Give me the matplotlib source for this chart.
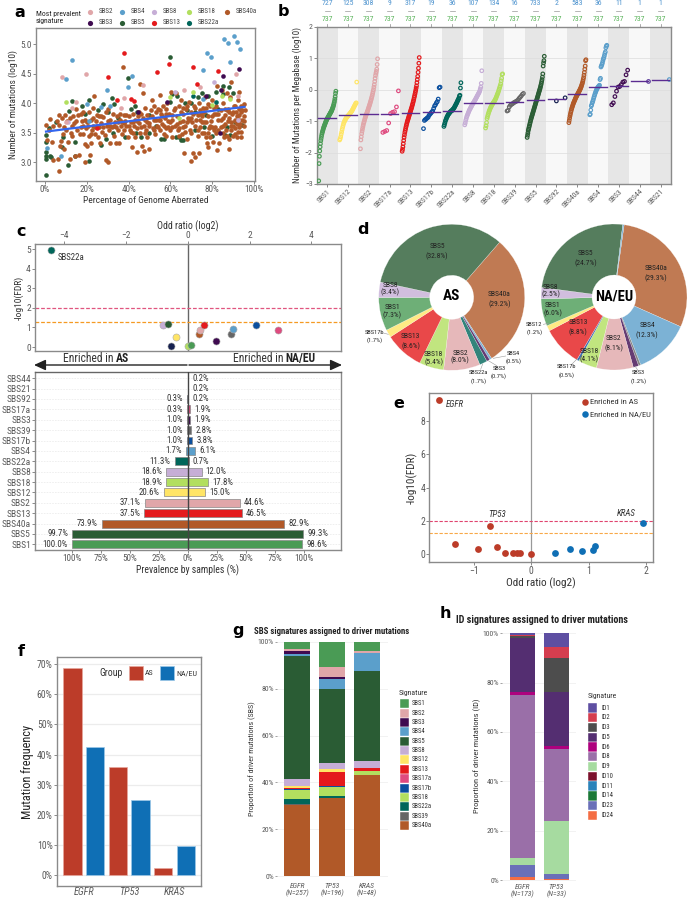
import matplotlib
matplotlib.use('Agg')
import matplotlib.pyplot as plt
from matplotlib import font_manager as fm
from matplotlib.patches import Rectangle
from matplotlib.ticker import FuncFormatter

W, H = 689, 899
avail = {f.name for f in fm.fontManager.ttflist}
for fam in ['Roboto Condensed', 'Liberation Sans Narrow', 'Roboto']:
    if fam in avail:
        plt.rcParams['font.family'] = [fam, 'DejaVu Sans']
        break

# ---------- colours ----------
COL = {'SBS1': '#4a9b55', 'SBS2': '#e0a6a9', 'SBS3': '#3f0a50', 'SBS4': '#5b9fcb', 'SBS5': '#2a5c34',
       'SBS8': '#c6aed6', 'SBS12': '#ffe566', 'SBS13': '#e41a1c', 'SBS17a': '#df4a7f', 'SBS17b': '#0b4f9e',
       'SBS18': '#b2df5f', 'SBS22a': '#00665a', 'SBS39': '#666666', 'SBS40a': '#b15928', 'SBS92': '#15204f',
       'SBS44': '#5a3a9a', 'SBS21': '#5b9fcb'}
IDCOL = {'ID1': '#5e4fa2', 'ID2': '#d53e4f', 'ID3': '#4d4d4d', 'ID5': '#542e71', 'ID6': '#ae017e', 'ID8': '#9a6fa8',
         'ID9': '#a6dba0', 'ID10': '#7b112c', 'ID11': '#2b83ba', 'ID14': '#1b7837', 'ID23': '#6a70b8', 'ID24': '#f46d43'}
TICK = '#5a5a5a'
FRAME = '#8a8a8a'

# ---------- panel a ----------
a_sbs40a = [(0.5,3.63),(0.8,3.38),(2.5,3.73),(2,3.55),(3.5,3.35),(3.8,3.62),(4,3.03),(5.8,3.7),(6,3.05),(6.5,3.63),(6.8,3.8),
 (7,3.28),(6.7,2.85),(7.5,3.36),(8,3.75),(8.5,3.48),(9,3.22),(9,3.6),(9.5,3.8),(10,3.55),(10.5,3.7),(11,3.35),(12,3.05),(12.5,3.5),
 (12.8,3.62),(13,3.45),(13.5,3.78),(14,3.67),(14.5,3.1),(15,3.9),(15.5,3.55),(16,3.8),(16.2,3.12),(16.8,3.48),(17,3.6),(17.5,3.7),
 (18,3.86),(18,3.48),(19,3.31),(19.2,3.01),(19.5,3.58),(20,3.28),(20.5,3.62),(21,3.85),(21.3,3.45),(21.7,3.12),(21.8,3.33),(22,3.72),
 (22.5,3.55),(23,3.92),(23.2,3.62),(23.6,4.12),(24,3.48),(24.5,3.7),(25,3.8),(25.3,3.42),(26,3.6),(26.5,3.33),(27,3.67),(27.5,3.52),
 (28,3.77),(28.5,3.46),(29,3.03),(29.5,3.62),(30,3.01),(30.3,3.9),(30.7,3.55),(31,3.32),(31.3,3.72),(32,3.6),(32.5,3.82),(33,3.45),
 (33.5,3.68),(34,3.32),(34.5,3.78),(35,3.55),(35.5,3.33),(36,3.72),(36.5,3.62),(37,3.48),(37.5,4.62),(37.8,3.8),(38,3.55),(38.5,3.7),
 (39,3.62),(39.5,3.42),(40,3.78),(40.5,3.55),(41,3.68),(41.5,3.25),(42,3.82),(42.3,3.5),(42.8,3.62),(43.2,3.72),(43.8,3.18),(44,3.58),
 (44.5,3.78),(45,3.66),(45.5,4.32),(45.5,3.5),(46,3.82),(46.5,3.27),(47,4.17),(47.3,3.62),(47.5,3.19),(48,3.72),(48.5,3.55),(49,3.8),
 (49,3.42),(49.8,3.22),(50,3.66),(50.5,3.88),(51,4.05),(51.5,3.58),(52,3.72),(52.5,3.48),(53,3.85),(53.5,3.62),(54,3.9),(54.5,3.72),
 (54.8,4.14),(55,3.55),(55.5,3.82),(56,3.65),(56.5,3.95),(57,3.48),(57.5,3.75),(58,3.9),(58,3.58),(58.5,4.0),(59,3.7),(59.5,3.82),
 (60,3.55),(60.5,4.2),(60.7,3.72),(61,3.42),(61.5,3.88),(62,3.62),(62.5,4.18),(63,3.78),(63.5,3.55),(64,3.95),(64.5,3.68),(65,4.05),
 (65.5,3.48),(66,3.82),(66.5,3.15),(67,3.62),(67.5,3.9),(68,3.4),(68.5,3.75),(69,4.02),(69.5,3.55),(70,3.02),(70,3.85),(70.5,3.68),
 (71,3.15),(71.5,3.95),(72,3.08),(72.5,3.72),(73,3.45),(73.5,4.0),(73.8,3.15),(74,3.6),(74.5,3.82),(75,3.5),(75.5,3.92),(76,3.68),
 (76.5,4.1),(77,3.42),(77.5,3.32),(77.8,3.25),(78,3.78),(78.5,3.58),(79,3.95),(79.5,3.7),(80,4.05),(80.5,3.35),(81,3.82),(81.5,3.6),
 (82,3.95),(82.3,3.2),(82.5,4.3),(83,3.72),(83.5,3.33),(84,3.88),(84.5,4.22),(85,3.62),(85.3,4.0),(85.5,3.42),(86,3.8),(86.5,3.55),
 (87,4.18),(87.5,3.7),(87.8,3.9),(88,3.22),(88.5,4.1),(88.8,4.37),(89,3.62),(89.5,3.82),(90,3.45),(90.3,3.95),(90.8,3.7),(91,3.58),
 (91.5,3.85),(92,3.42),(92.2,4.05),(92.5,3.52),(92.8,4.19),(93,3.8),(93.3,3.65),(93.6,3.95),(94,3.52),(94.3,3.88),(94.5,3.72),(95,3.98),
 (95.3,3.62),(95.8,3.88),(48,3.92),(52,3.95),(55,3.88),(58,3.82),(62,3.92),(65,3.85),(68,3.95),(72,3.92),(74,3.88),(76,3.85),(78,3.98),
 (80,3.78),(82,3.82),(84,3.72),(86,3.9),(88,3.75),(90,3.85),(92,3.78),(94,3.85),(50,3.62),(54,3.6),(57,3.62),(60,3.68),(63,3.65),(66,3.7),
 (69,3.72),(72,3.62),(75,3.68),(78,3.5),(81,3.55),(84,3.6),(87,3.45),(89,3.55),(91,3.48),(93,3.6),(28,3.6),(30,3.7),(33,3.62),(36,3.82),
 (39,3.8),(41,3.52),(44,3.7),(46,3.6),(48,3.5),(24,3.6),(26,3.78),(29,3.85),(34,3.6),(37,3.68),(40,3.62),(43,3.42),(15,3.7),(17,3.82),
 (12,3.75),(19,3.72),(22,3.48),(25,3.62),
 (51,3.78),(53,3.72),(56,3.78),(59,3.6),(61,3.8),(64,3.58),(66,3.92),(68,3.68),(70,3.75),(73,3.8),(75,3.78),(77,3.92),(79,3.62),(81,3.92),
 (83,3.82),(85,3.75),(87,3.88),(89,3.68),(91,3.95),(93,3.72),(95,3.78),(52,3.55),(55,3.72),(58,3.45),(61,3.6),(64,3.45),(67,3.52),(70,3.5),
 (73,3.55),(76,3.5),(79,3.42),(82,3.5),(85,3.5),(88,3.4),(90,3.62),(92,3.65),(94,3.42),(49,3.68),(47,3.75),(45,3.85),(42,3.68),(38,3.66),
 (35,3.68),(31,3.62),(27,3.78),(23,3.75),(20,3.68),(18,3.62),(66,3.6),(71,3.82),(74,3.72),(77,3.68),(80,3.6),(83,3.55),(86,3.65),(88,3.85),
 (91,3.72),(93,3.9),(95,3.7)]
a_sbs5 = [(0.3,3.46),(0.5,3.35),(0.4,3.18),(0.6,3.1),(0.7,3.05),(0.6,2.79),(2,3.58),(2.5,3.1),(2.8,3.08),(5.5,3.68),(8,3.26),(8.5,3.42),
 (10.8,2.96),(11.5,3.87),(13,4.04),(14.5,3.1),(14.5,3.34),(21,3.02),(21.3,4.05),(19,3.82),(17.5,3.95),(25.5,3.88),(27,3.3),(28,3.98),
 (30,3.85),(32.5,3.5),(33,3.98),(32,4.09),(39.8,4.43),(38.5,3.42),(43,3.95),(43.5,3.5),(46,3.43),(44,3.85),(50,3.5),(50,3.8),(55.5,3.39),
 (57,3.39),(59.8,4.79),(60,4.03),(62.5,3.42),(64,3.43),(65,3.38),(66,3.37),(61,4.15),(68,3.88),(70,4.0),(72,3.85),(75,4.18),(72,3.55),
 (78,4.12),(85,4.3),(85,4.15),(88,4.28),(82,4.2),(80,3.45),(86,3.47),(87,3.6),(88.5,3.47),(91,3.68),(94.5,3.64),(90,4.18),(76,3.6),
 (77,3.8),(83,3.9),(63,4.12),(29,3.4),(35,3.75),(41,3.9),(53,3.62),(67,4.0),(73,4.1)]
a_sbs4 = [(12.8,4.73),(10,4.41),(29.5,4.22),(41.8,4.47),(39.8,4.28),(85.8,5.09),(87.6,5.03),(90.5,5.14),(92,5.04),(93.2,4.93),(77.4,4.85),
 (79.3,4.79),(88.7,4.71),(75.5,4.57),(7.7,3.1),(0.9,3.24),(21,3.7),(26.8,3.93),(20,3.99),(75.8,4.08),(31,3.96)]
a_sbs13 = [(37.7,4.85),(30,4.45),(59.5,4.67),(53.5,4.53),(70.8,4.62),(82.8,4.55),(72.6,4.33),(34.6,4.05),(41.2,4.08),(42.8,4.04),(25,3.58)]
a_sbs2 = [(8,4.45),(19.6,4.5),(47,4.31),(38,4.09),(36.5,3.92),(13,3.92),(15,4.03),(74,4.27),(91.2,4.49),(92.6,4.13),(66.5,4.22),(10,3.68)]
a_sbs8 = [(81,4.36),(92.5,3.72),(62,4.2),(11,3.68)]
a_sbs18 = [(10,4.03),(59.8,4.1),(71,4.19),(88.5,4.07),(64,3.75),(84.5,4.12),(80,3.97)]
a_sbs3 = [(92.8,4.59),(85.3,4.47),(84,4.23),(44.5,3.86),(83.6,3.5),(77,4.12),(58.3,4.02)]
a_sbs22a = [(71,4.12),(82,4.02)]
a_trend_x = [0.5, 95.5]
a_trend_y = [3.52, 3.94]

# ---------- panel b ----------
b_names = ['SBS1','SBS12','SBS2','SBS17a','SBS13','SBS17b','SBS22a','SBS8','SBS18','SBS39','SBS5','SBS92','SBS40a','SBS4','SBS3','SBS44','SBS21']
b_counts = [727,125,308,9,317,19,36,107,134,16,733,2,583,36,11,1,1]
b_medians = [-0.91,-0.82,-0.78,-0.76,-0.75,-0.71,-0.67,-0.44,-0.41,-0.38,-0.32,-0.31,-0.15,0.09,0.10,0.26,0.32]
b_vals = {
 'SBS1': [-2.9,-2.35,-2.12,-1.95,-1.82,-1.72,-1.62,-1.55,-1.48,-1.42,-1.37,-1.33,-1.29,-1.25,-1.21,-1.18,-1.15,-1.12,-1.09,-1.06,-1.03,-1.0,-0.98,-0.95,-0.93,-0.91,-0.89,-0.87,-0.85,-0.83,-0.81,-0.79,-0.77,-0.75,-0.73,-0.71,-0.69,-0.67,-0.64,-0.61,-0.58,-0.55,-0.51,-0.47,-0.42,-0.37,-0.3,-0.22,-0.12,-0.05],
 'SBS12': [-1.6,-1.56,-1.5,-1.42,-1.35,-1.27,-1.2,-1.14,-1.08,-1.04,-1.0,-0.97,-0.94,-0.91,-0.89,-0.87,-0.85,-0.83,-0.82,-0.8,-0.78,-0.76,-0.74,-0.72,-0.7,-0.68,-0.65,-0.62,-0.59,-0.56,-0.53,-0.5,-0.47,-0.44,-0.42,0.24],
 'SBS2': [-1.88,-1.6,-1.5,-1.4,-1.32,-1.25,-1.18,-1.12,-1.06,-1.02,-0.97,-0.92,-0.88,-0.84,-0.8,-0.77,-0.73,-0.7,-0.66,-0.62,-0.58,-0.54,-0.5,-0.46,-0.42,-0.37,-0.33,-0.28,-0.23,-0.18,-0.12,-0.06,0.0,0.08,0.16,0.26,0.36,0.45,0.52,0.58,0.65,0.8,0.98],
 'SBS17a': [-1.36,-1.33,-1.3,-1.06,-0.76,-0.72,-0.7,-0.55,-0.04],
 'SBS13': [-1.96,-1.9,-1.82,-1.72,-1.62,-1.52,-1.44,-1.36,-1.3,-1.24,-1.18,-1.13,-1.08,-1.03,-0.99,-0.95,-0.91,-0.87,-0.83,-0.79,-0.75,-0.71,-0.67,-0.63,-0.59,-0.55,-0.5,-0.46,-0.41,-0.36,-0.31,-0.25,-0.2,-0.14,-0.08,-0.02,0.05,0.12,0.22,0.32,0.42,0.55,0.68,0.84,1.02],
 'SBS17b': [-1.24,-0.98,-0.95,-0.93,-0.9,-0.88,-0.82,-0.78,-0.75,-0.71,-0.68,-0.6,-0.52,-0.48,-0.42,-0.38,-0.3,0.06,0.08],
 'SBS22a': [-1.17,-1.12,-1.06,-1.0,-0.96,-0.92,-0.88,-0.85,-0.82,-0.79,-0.77,-0.75,-0.73,-0.71,-0.69,-0.68,-0.67,-0.66,-0.64,-0.62,-0.6,-0.58,-0.55,-0.52,-0.49,-0.46,-0.43,-0.4,-0.36,-0.33,-0.3,-0.26,-0.2,-0.18,0.05,0.22],
 'SBS8': [-1.12,-1.06,-0.98,-0.92,-0.86,-0.82,-0.78,-0.74,-0.7,-0.66,-0.63,-0.6,-0.57,-0.54,-0.51,-0.48,-0.45,-0.43,-0.4,-0.37,-0.35,-0.32,-0.29,-0.26,-0.23,-0.2,-0.17,-0.14,-0.11,-0.08,-0.04,0.02,0.08,0.2,0.6],
 'SBS18': [-1.22,-1.15,-1.05,-0.92,-0.86,-0.8,-0.75,-0.7,-0.66,-0.62,-0.58,-0.55,-0.52,-0.49,-0.46,-0.44,-0.41,-0.39,-0.37,-0.34,-0.31,-0.28,-0.24,-0.2,-0.16,-0.12,-0.08,-0.03,0.02,0.07,0.12,0.18,0.28,0.36,0.48,0.5],
 'SBS39': [-0.68,-0.66,-0.55,-0.5,-0.47,-0.45,-0.42,-0.4,-0.38,-0.36,-0.33,-0.28,-0.24,-0.2,-0.15,-0.12],
 'SBS5': [-1.52,-1.45,-1.38,-1.3,-1.25,-1.2,-1.15,-1.1,-1.05,-1.0,-0.95,-0.91,-0.87,-0.83,-0.79,-0.75,-0.71,-0.67,-0.63,-0.59,-0.55,-0.51,-0.47,-0.43,-0.39,-0.35,-0.31,-0.27,-0.23,-0.19,-0.15,-0.11,-0.07,-0.03,0.01,0.05,0.1,0.15,0.2,0.26,0.32,0.4,0.5,0.75,0.85,0.92,1.06],
 'SBS92': [-0.36,-0.26],
 'SBS40a': [-1.05,-0.98,-0.9,-0.83,-0.77,-0.71,-0.66,-0.61,-0.57,-0.53,-0.49,-0.45,-0.42,-0.39,-0.36,-0.33,-0.3,-0.27,-0.24,-0.22,-0.19,-0.17,-0.14,-0.12,-0.1,-0.07,-0.05,-0.02,0.0,0.03,0.06,0.09,0.13,0.17,0.21,0.26,0.32,0.38,0.46,0.55,0.65,0.75,0.92,0.95],
 'SBS4': [-0.8,-0.78,-0.65,-0.52,-0.48,-0.42,-0.38,-0.33,-0.27,-0.22,-0.17,-0.12,-0.08,-0.04,0.0,0.03,0.06,0.08,0.1,0.12,0.14,0.32,0.36,0.72,0.76,0.8,0.85,0.92,0.98,1.02,1.08,1.15,1.2,1.33,1.38,1.41],
 'SBS3': [-0.48,-0.42,-0.22,-0.05,0.08,0.1,0.16,0.24,0.26,0.47,0.62],
 'SBS44': [0.26],
 'SBS21': [0.32],
}

# ---------- panel c ----------
c_top_names = ['SBS22a','SBS8','SBS5','SBS12','SBS92','SBS18','SBS1','SBS40a','SBS2','SBS13','SBS3','SBS39','SBS4','SBS17b','SBS17a']
c_top_x = [-4.42,-0.79,-0.63,-0.38,-0.53,0.02,0.10,0.35,0.40,0.52,0.90,1.40,1.45,2.20,2.93]
c_top_y = [4.95,1.15,1.18,0.53,0.06,0.03,0.12,0.66,0.85,1.13,0.33,0.66,0.90,1.14,0.87]
c_names = ['SBS1','SBS5','SBS40a','SBS13','SBS2','SBS12','SBS18','SBS8','SBS22a','SBS4','SBS17b','SBS39','SBS3','SBS17a','SBS92','SBS21','SBS44']
c_as = [100.0,99.7,73.9,37.5,37.1,20.6,18.9,18.6,11.3,1.7,1.0,1.0,1.0,0.3,0.3,0.0,0.0]
c_na = [98.6,99.3,82.9,46.5,44.6,15.0,17.8,12.0,0.7,6.1,3.8,2.8,1.9,1.9,0.2,0.2,0.2]

# ---------- panel d ----------
d_as_colors = ['SBS40a','SBS4','SBS3','SBS22a','SBS2','SBS18','SBS13','SBS12','SBS1','SBS8','SBS5']
d_as_vals = [29.2,0.5,0.7,1.7,8.0,5.4,8.6,1.7,7.3,3.4,32.8]
d_na_colors = ['SBS40a','SBS4','SBS39','SBS3','SBS2','SBS18','SBS17b','SBS13','SBS12','SBS1','SBS8','SBS5','SBS21']
d_na_vals = [29.3,12.3,0.5,1.2,8.1,4.1,0.5,8.8,1.2,6.0,2.5,24.7,0.3]

# ---------- panel e ----------
e_as_x = [-1.60,-0.71,-1.33,-0.93,-0.59,-0.46,-0.31,-0.24,-0.20,0.0]
e_as_y = [9.25,1.68,0.60,0.33,0.45,0.07,0.07,0.07,0.07,0.0]
e_na_x = [1.94,0.41,0.67,0.89,1.07,1.11]
e_na_y = [1.90,0.07,0.30,0.20,0.28,0.52]

# ---------- panel f ----------
f_genes = ['EGFR','TP53','KRAS']
f_as = [68.8,36.0,2.4]
f_na = [42.4,25.0,9.6]

# ---------- panel g ----------
g_labels = ['EGFR\n(N=257)','TP53\n(N=196)','KRAS\n(N=48)']
g_order = ['SBS1','SBS2','SBS3','SBS4','SBS5','SBS8','SBS12','SBS13','SBS17a','SBS17b','SBS18','SBS22a','SBS39','SBS40a']
g_egfr = [2.9,1.0,1.4,0.7,52.6,3.0,1.0,0.4,0.0,0.2,3.8,2.3,0.4,30.3]
g_tp53 = [10.7,4.3,0.8,4.2,31.6,2.8,1.0,6.0,0.0,0.4,4.2,0.5,0.0,33.5]
g_kras = [3.8,0.9,0.0,7.7,38.5,2.8,0.0,1.4,0.0,0.0,1.6,0.0,0.0,43.3]

# ---------- panel h ----------
h_labels = ['EGFR\n(N=173)','TP53\n(N=33)']
h_order = ['ID1','ID2','ID3','ID5','ID6','ID8','ID9','ID10','ID11','ID14','ID23','ID24']
h_egfr = [1.0,0.4,0.7,21.7,1.5,66.0,2.8,0.0,0.0,0.0,4.8,1.2]
h_tp53 = [5.6,4.4,14.0,21.9,1.1,29.0,21.4,0.0,0.0,0.0,2.2,0.4]

fig = plt.figure(figsize=(W/100, H/100), dpi=100, facecolor='white')

def px_axes(x0, y0, x1, y1, **kw):
    return fig.add_axes([x0/W, 1-y1/H, (x1-x0)/W, (y1-y0)/H], **kw)

def style(ax, fs=6.0, lw=0.8):
    for s in ax.spines.values():
        s.set_color(FRAME); s.set_linewidth(lw)
    ax.tick_params(labelsize=fs, colors=TICK, length=2, width=0.5, pad=1)

ov = px_axes(0, 0, W, H, zorder=10)
ov.set_xlim(0, W); ov.set_ylim(H, 0); ov.axis('off'); ov.patch.set_alpha(0)

for lab, x, y in [('a',20,12.5),('b',283,12),('c',21,231),('d',363,229),('e',399,403),('f',21,651),('g',238,631),('h',445,613)]:
    ov.text(x, y, lab, fontsize=11.5, fontweight='bold', ha='center', va='center', family='DejaVu Sans', color='black')

# ===== a =====
ax = px_axes(36, 28, 255, 181)
style(ax, 6.6, 1.0)
ax.set_xlim(-4.3, 100.5); ax.set_ylim(2.68, 5.28)
for pts, n, z in [(a_sbs5,'SBS5',2),(a_sbs40a,'SBS40a',2.5),(a_sbs22a,'SBS22a',3),(a_sbs8,'SBS8',3),(a_sbs18,'SBS18',3),(a_sbs2,'SBS2',3),(a_sbs4,'SBS4',3),(a_sbs3,'SBS3',3),(a_sbs13,'SBS13',3)]:
    ax.scatter([p[0] for p in pts], [p[1] for p in pts], s=11, color=COL[n], linewidths=0, zorder=z)
ax.plot(a_trend_x, a_trend_y, color='#3366ee', lw=1.6, zorder=5)
ax.set_xticks([0,20,40,60,80,100]); ax.set_xticklabels(['0%','20%','40%','60%','80%','100%'])
ax.set_yticks([3,3.5,4,4.5,5]); ax.set_yticklabels(['3.0','3.5','4.0','4.5','5.0'])
ax.set_xlabel('Percentage of Genome Aberrated', fontsize=6.8, color='#333333', labelpad=1)
ax.set_ylabel('Number of mutations (log10)', fontsize=6.8, color='#333333', labelpad=2)
ov.text(36, 17.5, 'Most prevalent\nsignature', fontsize=5.5, color='#222222', va='center', linespacing=1.2)
for n, x, y in [('SBS2',90,11.7),('SBS4',122,11.7),('SBS8',154,11.7),('SBS18',189,11.7),('SBS40a',227,11.7),
                ('SBS3',90,23),('SBS5',122,23),('SBS13',154,23),('SBS22a',189,23)]:
    ov.scatter([x],[y], s=14, color=COL[n], linewidths=0)
    ov.text(x+9, y, n, fontsize=5.0, va='center', color='#444444')

# ===== b =====
ax = px_axes(316.7, 26.7, 671, 184)
style(ax, 5.6, 1.0)
ax.set_xlim(-0.5, 16.5); ax.set_ylim(-3, 2)
for i, n in enumerate(b_names):
    ax.axvspan(i-0.5, i+0.5, color='#e6e6e6' if i % 2 == 0 else '#f8f8f8', lw=0, zorder=0)
for v in [-2,-1,0,1]:
    ax.axhline(v, color='#dcdcdc', lw=0.5, zorder=1)
for i, n in enumerate(b_names):
    vals = b_vals[n]; m = len(vals)
    xs = [i - 0.42 + 0.84*(k+1)/m for k in range(m)]
    ax.scatter(xs, vals, s=6.5, facecolors='none', edgecolors=COL[n], linewidths=0.85, zorder=3)
    ax.plot([i-0.42, i+0.42], [b_medians[i]]*2, color='#5b2c91', lw=1.0, zorder=4)
    ax.text(i, 2.75, str(b_counts[i]), color='#4f94cf', fontsize=5.6, ha='center', va='center', clip_on=False)
    ax.plot([i-0.12, i+0.12], [2.5, 2.5], color='#999999', lw=0.5, clip_on=False)
    ax.text(i, 2.24, '737', color='#59b359', fontsize=5.6, ha='center', va='center', clip_on=False)
    ax.plot([i, i], [2.0, 2.07], color='#888888', lw=0.5, clip_on=False)
ax.set_xticks(range(17)); ax.set_xticklabels(b_names, rotation=45, ha='right', rotation_mode='anchor', fontsize=5.4)
ax.set_yticks([-3,-2,-1,0,1,2])
ax.set_ylabel('Number of Mutations per Megabase (log10)', fontsize=6.45, color='#333333', labelpad=2)

# ===== c top =====
ax = px_axes(35, 244.3, 341, 351)
style(ax, 6.8, 1.0)
ax.set_xlim(-4.94, 4.96); ax.set_ylim(-0.2, 5.24)
ax.axvline(0, color='#666666', lw=1.0, zorder=1)
ax.axhline(2, color='#e0557f', lw=0.9, ls=(0,(3,1.5)), zorder=1)
ax.axhline(1.3, color='#f59a23', lw=0.9, ls=(0,(3,1.5)), zorder=1)
for n, x, y in zip(c_top_names, c_top_x, c_top_y):
    ax.scatter([x],[y], s=26, color=COL[n], edgecolors='#aaaaaa', linewidths=0.4, zorder=3)
ax.text(-4.22, 4.55, 'SBS22a', fontsize=6.4, color='#333333', va='center')
ax.xaxis.tick_top(); ax.xaxis.set_label_position('top')
ax.set_xticks([-4,-2,0,2,4])
ax.set_yticks([0,1,2,3,4,5])
ax.set_xlabel('Odd ratio (log2)', fontsize=7.1, color='#333333', labelpad=1)
ax.set_ylabel('-log10(FDR)', fontsize=6.8, color='#333333', labelpad=2)

# arrow and labels
ov.annotate('', xy=(34,365), xytext=(187,365), arrowprops=dict(arrowstyle='-|>,head_width=0.32,head_length=0.7', color='#222222', lw=1.0, shrinkA=0, shrinkB=0))
ov.annotate('', xy=(342,365), xytext=(189,365), arrowprops=dict(arrowstyle='-|>,head_width=0.32,head_length=0.7', color='#222222', lw=1.0, shrinkA=0, shrinkB=0))
ov.text(63, 358.5, 'Enriched in', fontsize=8.4, color='#333333', va='center')
ov.text(115.5, 358.5, 'AS', fontsize=8.4, fontweight='bold', color='#222222', va='center')
ov.text(233, 358.5, 'Enriched in', fontsize=8.4, color='#333333', va='center')
ov.text(285.5, 358.5, 'NA/EU', fontsize=8.4, fontweight='bold', color='#222222', va='center')

# ===== c bottom =====
ax = px_axes(35, 372, 341, 550)
style(ax, 6.6, 1.0)
ax.set_xlim(-131.6, 132); ax.set_ylim(-0.55, 16.6)
ys = list(range(len(c_names)))
for y in ys:
    ax.axhline(y, color='#e4e4e4', lw=0.4, ls=(0,(3,2)), zorder=0)
ax.barh(ys, [-v for v in c_as], height=0.77, color=[COL.get(n,'#999') for n in c_names], edgecolor='#888888', linewidth=0.5, zorder=2)
ax.barh(ys, c_na, height=0.77, color=[COL.get(n,'#999') for n in c_names], edgecolor='#888888', linewidth=0.5, zorder=2)
ax.axvline(0, color='#444444', lw=1.0, zorder=3)
for y, a_, n_ in zip(ys, c_as, c_na):
    if a_ > 0:
        ax.text(-a_-3.5, y, f'{a_:.1f}%', ha='right', va='center', fontsize=6.3, color='#333333')
    ax.text(n_+3.5, y, f'{n_:.1f}%', ha='left', va='center', fontsize=6.3, color='#333333')
ax.set_yticks(ys); ax.set_yticklabels(c_names, fontsize=6.8)
ax.set_xticks([-100,-75,-50,-25,0,25,50,75,100])
ax.xaxis.set_major_formatter(FuncFormatter(lambda v, p: f'{abs(v):.0f}%'))
ax.set_xlabel('Prevalence by samples (%)', fontsize=7.0, color='#333333', labelpad=1)
ax.spines['top'].set_color('#666666')

# ===== d =====
def donut(cx, cy, names, vals, start):
    r = 73
    a = px_axes(cx-r, cy-r, cx+r, cy+r)
    a.pie(vals, colors=[COL[n] for n in names], startangle=start, counterclock=False, radius=1.0,
          wedgeprops=dict(width=1-22/73, alpha=0.8, linewidth=0.2, edgecolor='white'), normalize=True)
    a.set_xlim(-1, 1); a.set_ylim(-1, 1)
    a.set_aspect('equal'); a.axis('off')
donut(451.7, 297.3, d_as_colors, d_as_vals, 49)
donut(614, 297, d_na_colors, d_na_vals, 82)
dfs = 5.4
def dlab(zx, zy1, zy2, a, b, fs=dfs):
    ov.text(340+zx/3, 215+zy1/3, a, fontsize=fs, ha='center', va='center', color='#222222')
    ov.text(340+zx/3, 215+zy2/3, b, fontsize=fs, ha='center', va='center', color='#222222')
for row in [(291,95,125,'SBS5','(32.8%)'),(150,212,233,'SBS8','(3.4%)'),(157,277,300,'SBS1','(7.3%)'),(212,365,393,'SBS13','(8.6%)'),
            (281,418,442,'SBS18','(5.4%)'),(360,416,437,'SBS2','(8.0%)'),(478,238,268,'SBS40a','(29.2%)'),
            (737,115,145,'SBS5','(24.7%)'),(947,161,191,'SBS40a','(29.3%)'),(632,217,238,'SBS8','(2.5%)'),(638,271,294,'SBS1','(6.0%)'),
            (715,324,353,'SBS13','(8.8%)'),(748,410,432,'SBS18','(4.1%)'),(821,371,401,'SBS2','(8.1%)'),
            (921,332,362,'SBS4','(12.3%)')]:
    dlab(*row)
for row in [(103,353,375,'SBS17b','(1.7%)'),(415,473,497,'SBS22a','(1.7%)'),(477,460,483,'SBS3','(0.7%)'),(520,415,438,'SBS4','(0.5%)'),
            (583,328,352,'SBS12','(1.2%)'),(680,456,479,'SBS17b','(0.5%)'),(896,473,497,'SBS3','(1.2%)')]:
    dlab(*row, fs=4.6)
for z0, z1, z2, z3 in [(130,354,145,358),(428,447,422,463),(445,437,470,452),(460,430,497,423),(610,328,625,325),(712,431,695,448),(885,453,893,465)]:
    ov.plot([340+z0/3, 340+z2/3], [215+z1/3, 215+z3/3], color='#999999', lw=0.4)
ov.text(452, 296.5, 'AS', fontsize=11, fontweight='bold', ha='center', va='center', color='black')
ov.text(613.7, 296.5, 'NA/EU', fontsize=10.5, fontweight='bold', ha='center', va='center', color='black')

# ===== e =====
ax = px_axes(429.3, 393.3, 653.3, 561.7)
style(ax, 7.0, 1.0)
ax.set_xlim(-1.774, 2.127); ax.set_ylim(-0.44, 9.66)
ax.axvline(0, color='#999999', lw=0.9, zorder=1)
ax.axhline(2, color='#e0456f', lw=0.8, ls=(0,(3,1.5)), zorder=1)
ax.axhline(1.3, color='#f8a848', lw=0.8, ls=(0,(3,1.5)), zorder=1)
ax.scatter(e_as_x, e_as_y, s=24, color='#bc3c29', linewidths=0, zorder=3)
ax.scatter(e_na_x, e_na_y, s=24, color='#0f6fb5', linewidths=0, zorder=3)
ax.text(-1.49, 8.98, 'EGFR', fontsize=6.4, style='italic', color='#333333', va='center')
ax.text(-0.59, 2.37, 'TP53', fontsize=6.4, style='italic', color='#333333', va='center', ha='center')
ax.text(1.65, 2.45, 'KRAS', fontsize=6.4, style='italic', color='#333333', va='center', ha='center')
ax.set_xticks([-1,0,1,2]); ax.set_yticks([0,2,4,6,8])
ax.set_xlabel('Odd ratio (log2)', fontsize=8.1, color='#333333', labelpad=1)
ax.set_ylabel('-log10(FDR)', fontsize=8.0, color='#333333', labelpad=2)
ov.scatter([584.7],[402], s=22, color='#bc3c29', linewidths=0)
ov.scatter([584.7],[414.3], s=22, color='#0f6fb5', linewidths=0)
ov.text(589.5, 402, 'Enriched in AS', fontsize=6.1, color='#333333', va='center')
ov.text(589.5, 414.3, 'Enriched in NA/EU', fontsize=6.1, color='#333333', va='center')

# ===== f =====
ax = px_axes(56.7, 657.3, 201, 885.7)
style(ax, 7.0, 1.0)
ax.set_xlim(0.4, 3.585); ax.set_ylim(-3.45, 72.2)
ax.grid(axis='y', color='#ececec', lw=0.9); ax.set_axisbelow(True)
xs = [1,2,3]
ax.bar([x-0.25 for x in xs], f_as, width=0.41, color='#bc3c29', edgecolor='#e8a79c', linewidth=0.5, zorder=2)
ax.bar([x+0.25 for x in xs], f_na, width=0.41, color='#0f6fb5', edgecolor='#9cc8e8', linewidth=0.5, zorder=2)
ax.set_xticks(xs); ax.set_xticklabels(f_genes, style='italic', fontsize=7.3)
ax.set_yticks(range(0,71,10)); ax.set_yticklabels([f'{v}%' for v in range(0,71,10)])
ax.tick_params(axis='x', length=0)
ax.set_ylabel('Mutation frequency', fontsize=8.8, color='#222222', labelpad=2)
ov.text(111, 673, 'Group', fontsize=7.0, color='#333333', ha='center', va='center')
ov.add_patch(Rectangle((128.5,666), 14, 14, facecolor='#bc3c29', edgecolor='#e8a79c', lw=0.5))
ov.text(144.5, 673, 'AS', fontsize=5.8, color='#333333', va='center')
ov.add_patch(Rectangle((160,666), 14, 14, facecolor='#0f6fb5', edgecolor='#9cc8e8', lw=0.5))
ov.text(176, 673, 'NA/EU', fontsize=5.8, color='#333333', va='center')

# ===== g, h =====
def stack(ax, series, order, colors, labels, width=0.75):
    for j, vals in enumerate(series):
        bottom = 0
        for n, v in reversed(list(zip(order, vals))):
            if v > 0:
                ax.bar(j, v, bottom=bottom, width=width, color=colors[n], edgecolor='none', zorder=2)
                bottom += v
    ax.set_xticks(range(len(series)))
    ax.set_xticklabels(labels, style='italic', fontsize=5.5, color=TICK, linespacing=1.1)
    ax.set_yticks([0,20,40,60,80,100]); ax.set_yticklabels(['0%','20%','40%','60%','80%','100%'])
    ax.tick_params(axis='x', length=0, pad=2)
    ax.tick_params(axis='y', length=1.5, width=0.4, labelsize=5.6, colors=TICK, pad=0.5)
    for s in ax.spines.values():
        s.set_visible(False)
    ax.grid(axis='y', color='#f0f0f0', lw=0.6); ax.set_axisbelow(True)

# g
ax = px_axes(276.7, 638, 388, 880)
ax.set_xlim(-0.586, 2.6); ax.set_ylim(-1.7, 101.7)
stack(ax, [g_egfr, g_tp53, g_kras], g_order, COL, g_labels)
ax.set_ylabel('Proportion of driver mutations (SBS)', fontsize=5.8, color='#333333', labelpad=1)
ov.text(254.5, 631.5, 'SBS signatures assigned to driver mutations', fontsize=6.3, fontweight='bold', color='#222222', va='center')
ov.text(399, 692.5, 'Signature', fontsize=5.6, color='#333333', va='center')
for i, n in enumerate(g_order):
    y = 703.7 + 9.37*i
    ov.add_patch(Rectangle((399.7, y-4.5), 9, 9, facecolor=COL[n], edgecolor='white', lw=0.3))
    ov.text(412, y, n, fontsize=4.8, color='#333333', va='center')

# h
ax = px_axes(501.7, 630, 576, 881)
ax.set_xlim(-0.635, 1.59); ax.set_ylim(-0.4, 101.3)
stack(ax, [h_egfr, h_tp53], h_order, IDCOL, h_labels)
ax.set_ylabel('Proportion of driver mutations (ID)', fontsize=6.1, color='#333333', labelpad=1)
ov.text(456, 620, 'ID signatures assigned to driver mutations', fontsize=7.3, fontweight='bold', color='#222222', va='center')
ov.text(587.7, 696, 'Signature', fontsize=5.6, color='#333333', va='center')
for i, n in enumerate(h_order):
    y = 708 + 9.76*i
    ov.add_patch(Rectangle((588, y-4.6), 9.3, 9.3, facecolor=IDCOL[n], edgecolor='white', lw=0.3))
    ov.text(601.7, y, n, fontsize=4.8, color='#333333', va='center')

fig.savefig('out.png', dpi=100, facecolor='white')
